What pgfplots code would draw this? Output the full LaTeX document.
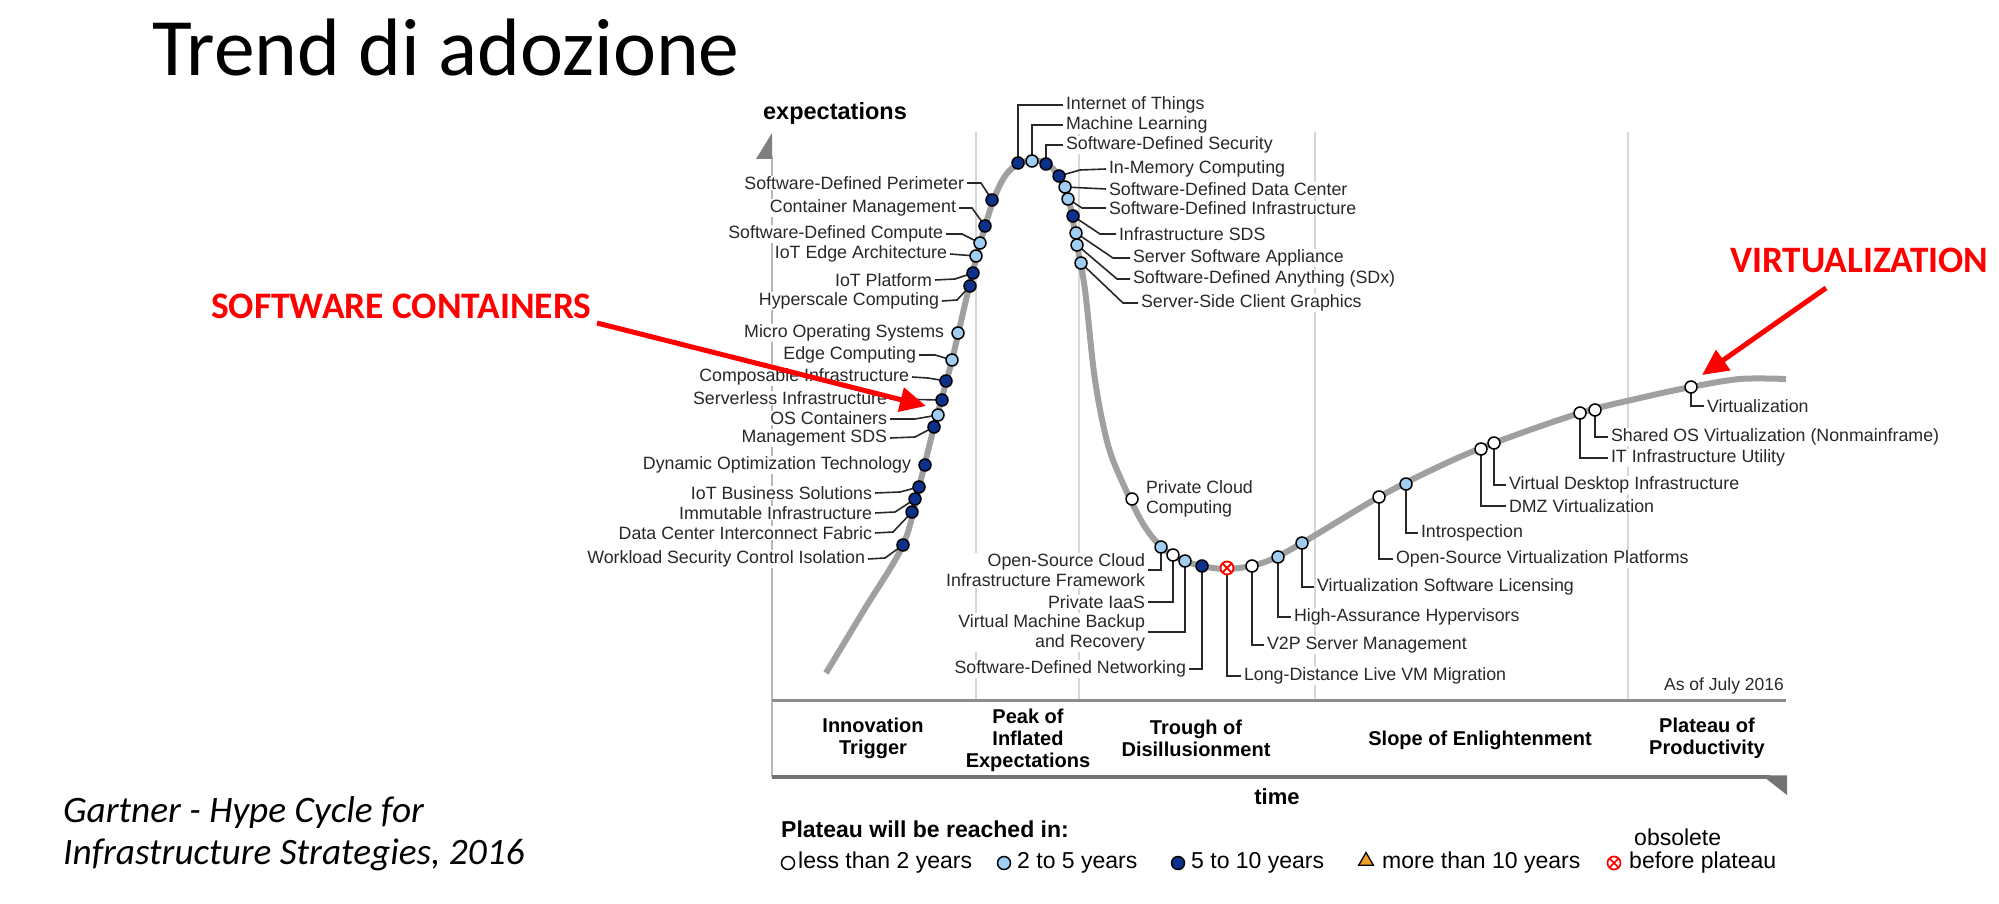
\documentclass[border=0pt]{standalone}
\usepackage{fontspec}
\setmainfont{Liberation Sans}
\newfontfamily\calibri{Carlito}
\usepackage{pgfplots}
\pgfplotsset{compat=1.18}
\usetikzlibrary{arrows.meta,plotmarks}
\definecolor{lblue}{RGB}{160,206,242}
\definecolor{dblue}{RGB}{12,48,140}
\definecolor{curvegray}{RGB}{160,160,160}
\definecolor{sepgray}{RGB}{215,215,215}
\definecolor{txt}{RGB}{40,40,40}
\definecolor{legorange}{RGB}{240,160,40}
\tikzset{
  lbl/.style={font=\fontsize{17.8}{20}\selectfont, text=txt, inner sep=0.8pt, fill=white},
  ldr/.style={draw=txt, line width=1.6pt},
  phase/.style={font=\bfseries\fontsize{20}{22}\selectfont, align=center, inner sep=0},
  leg/.style={font=\fontsize{23}{26}\selectfont, anchor=west, inner sep=0},
}
\begin{document}
\begin{tikzpicture}
\begin{axis}[width=1999pt,height=904pt,scale only axis,
  xmin=0,xmax=1999,ymin=0,ymax=904,y dir=reverse,hide axis,clip=false]
% separators
\draw[sepgray, line width=1.5pt] (976,132) -- (976,700);
\draw[sepgray, line width=1.5pt] (1079,132) -- (1079,700);
\draw[sepgray, line width=1.5pt] (1315,132) -- (1315,700);
\draw[sepgray, line width=1.5pt] (1628,132) -- (1628,700);
% y axis
\draw[black!28, line width=1.5pt] (772,156) -- (772,777);
\fill[black!50] (772,133) -- (772,159) -- (756,159) -- cycle;
% phase box
\draw[black!45, line width=3pt] (772,700) -- (1786,700);
\draw[black!55, line width=3.2pt] (772,777) -- (1770,777);
\fill[black!55] (1762,775.4) -- (1787,775.4) -- (1787,795) -- cycle;
% axis texts
\node[font=\bfseries\fontsize{23.5}{26}\selectfont, inner sep=0] at (835,113) {expectations};
\node[font=\bfseries\fontsize{22}{24}\selectfont, inner sep=0] at (1277,797) {time};
\node[font=\fontsize{17.5}{20}\selectfont, anchor=east, inner sep=0, text=txt] at (1784,686) {As of July 2016};
\node[phase] at (873,738.5) {Innovation\\Trigger};
\node[phase] at (1028,740) {Peak of\\Inflated\\Expectations};
\node[phase] at (1196,738.5) {Trough of\\Disillusionment};
\node[phase] at (1480,740) {Slope of Enlightenment};
\node[phase] at (1707,738.5) {Plateau of\\Productivity};
% left labels
\node[lbl, anchor=east] at (965,183) {Software-Defined Perimeter};
\node[lbl, anchor=east] at (957,208) {Container Management};
\node[lbl, anchor=east] at (944,234) {Software-Defined Compute};
\node[lbl, anchor=east] at (948,254) {IoT Edge Architecture};
\node[lbl, anchor=east] at (933,280) {IoT Platform};
\node[lbl, anchor=east] at (940,301) {Hyperscale Computing};
\node[lbl, anchor=east] at (945,333) {Micro Operating Systems};
\node[lbl, anchor=east] at (917,355) {Edge Computing};
\node[lbl, anchor=east] at (910,377) {Composable Infrastructure};
\node[lbl, anchor=east] at (888,398) {Serverless Infrastructure};
\node[lbl, anchor=east] at (888,418) {OS Containers};
\node[lbl, anchor=east] at (888,438) {Management SDS};
\node[lbl, anchor=east] at (912,465) {Dynamic Optimization Technology};
\node[lbl, anchor=east] at (873,493) {IoT Business Solutions};
\node[lbl, anchor=east] at (873,513) {Immutable Infrastructure};
\node[lbl, anchor=east] at (873,533) {Data Center Interconnect Fabric};
\node[lbl, anchor=east] at (866,559) {Workload Security Control Isolation};
% top right labels
\node[lbl, anchor=west] at (1065,105) {Internet of Things};
\node[lbl, anchor=west] at (1065,125) {Machine Learning};
\node[lbl, anchor=west] at (1065,145) {Software-Defined Security};
\node[lbl, anchor=west] at (1108,169) {In-Memory Computing};
\node[lbl, anchor=west] at (1108,189) {Software-Defined Data Center};
\node[lbl, anchor=west] at (1108,208) {Software-Defined Infrastructure};
\node[lbl, anchor=west] at (1118,234) {Infrastructure SDS};
\node[lbl, anchor=west] at (1132,258) {Server Software Appliance};
\node[lbl, anchor=west] at (1132,279) {Software-Defined Anything (SDx)};
\node[lbl, anchor=west] at (1140,303) {Server-Side Client Graphics};
% trough labels
\node[lbl, anchor=west, align=left] at (1145,499) {Private Cloud\\Computing};
\node[lbl, anchor=east, align=right] at (1146,570.5) {Open-Source Cloud\\Infrastructure Framework};
\node[lbl, anchor=east] at (1146,602) {Private IaaS};
\node[lbl, anchor=east, align=right] at (1146,632.5) {Virtual Machine Backup\\and Recovery};
\node[lbl, anchor=east] at (1187,669) {Software-Defined Networking};
\node[lbl, anchor=west] at (1243,676) {Long-Distance Live VM Migration};
\node[lbl, anchor=west] at (1266,645) {V2P Server Management};
\node[lbl, anchor=west] at (1293,617) {High-Assurance Hypervisors};
\node[lbl, anchor=west] at (1316,587) {Virtualization Software Licensing};
\node[lbl, anchor=west] at (1395,559) {Open-Source Virtualization Platforms};
\node[lbl, anchor=west] at (1420,533) {Introspection};
\node[lbl, anchor=west] at (1508,485) {Virtual Desktop Infrastructure};
\node[lbl, anchor=west] at (1508,506) {DMZ Virtualization};
\node[lbl, anchor=west] at (1610,437) {Shared OS Virtualization (Nonmainframe)};
\node[lbl, anchor=west] at (1610,458) {IT Infrastructure Utility};
\node[lbl, anchor=west] at (1706,406) {Virtualization};
% hype curve
\addplot[curvegray, line width=6pt, smooth, tension=0.55, mark=none] coordinates {
(826,673) (864,610) (903,545) (919,487) (934,427) (952,360) (966,300) (980,244)
(995,196) (1010,170) (1032,160) (1050,166) (1062,182) (1070,205) (1077,245)
(1085,290) (1095,380) (1108,445) (1125,488) (1145,527) (1165,550) (1190,563)
(1227,569) (1265,562) (1302,543) (1379,497) (1440,466) (1494,443) (1580,413)
(1640,398) (1691,387) (1740,379) (1786,379)};
% leaders
\draw[ldr] (967,183) -- (981,183) -- (992,200);
\draw[ldr] (959,208) -- (972,208) -- (985,226);
\draw[ldr] (946,234) -- (962,234) -- (980,243);
\draw[ldr] (950,254) -- (976,256);
\draw[ldr] (935,280) -- (955,279) -- (973,273);
\draw[ldr] (942,301) -- (957,300) -- (970,286);
\draw[ldr] (919,355) -- (935,355) -- (952,360);
\draw[ldr] (912,377) -- (928,378) -- (946,381);
\draw[ldr] (890,399) -- (942,400);
\draw[ldr] (890,419) -- (915,419) -- (938,415);
\draw[ldr] (890,438) -- (915,437) -- (934,427);
\draw[ldr] (875,493) -- (900,492) -- (919,487);
\draw[ldr] (875,513) -- (895,512) -- (915,499);
\draw[ldr] (875,533) -- (893,532) -- (912,512);
\draw[ldr] (868,559) -- (885,558) -- (903,545);
\draw[ldr] (1018,163) -- (1018,105) -- (1063,105);
\draw[ldr] (1032,161) -- (1032,125) -- (1063,125);
\draw[ldr] (1046,164) -- (1046,145) -- (1063,145);
\draw[ldr] (1059,176) -- (1080,170) -- (1106,169);
\draw[ldr] (1065,187) -- (1106,189);
\draw[ldr] (1068,199) -- (1082,208) -- (1106,208);
\draw[ldr] (1073,216) -- (1100,234) -- (1116,234);
\draw[ldr] (1076,233) -- (1113,258) -- (1130,258);
\draw[ldr] (1077,245) -- (1117,279) -- (1130,279);
\draw[ldr] (1081,263) -- (1123,303) -- (1138,303);
\draw[ldr] (1161,547) -- (1161,570) -- (1148,570);
\draw[ldr] (1173,555) -- (1173,602) -- (1148,602);
\draw[ldr] (1185,561) -- (1185,632) -- (1148,632);
\draw[ldr] (1202,566) -- (1202,669) -- (1189,669);
\draw[ldr] (1227,568) -- (1227,676) -- (1241,676);
\draw[ldr] (1252,566) -- (1252,645) -- (1264,645);
\draw[ldr] (1278,557) -- (1278,617) -- (1291,617);
\draw[ldr] (1302,543) -- (1302,587) -- (1314,587);
\draw[ldr] (1379,497) -- (1379,559) -- (1393,559);
\draw[ldr] (1406,484) -- (1406,533) -- (1418,533);
\draw[ldr] (1494,443) -- (1494,485) -- (1506,485);
\draw[ldr] (1481,449) -- (1481,506) -- (1506,506);
\draw[ldr] (1595,410) -- (1595,437) -- (1608,437);
\draw[ldr] (1580,413) -- (1580,458) -- (1608,458);
\draw[ldr] (1691,387) -- (1691,406) -- (1704,406);
% markers: less than 2 years
\addplot[only marks, mark=*, mark size=6pt, mark options={draw=black, fill=white, line width=1.5pt}] coordinates {
(1132,499) (1173,555) (1252,566) (1379,497) (1481,449) (1494,443) (1580,413) (1595,410) (1691,387)};
% 2 to 5 years
\addplot[only marks, mark=*, mark size=6pt, mark options={draw=black, fill=lblue, line width=1.5pt}] coordinates {
(1032,161) (1065,187) (1068,199) (1076,233) (1077,245) (1081,263) (980,243) (976,256)
(958,333) (952,360) (938,415) (1161,547) (1185,561) (1278,557) (1302,543) (1406,484)};
% 5 to 10 years
\addplot[only marks, mark=*, mark size=6pt, mark options={draw=black, fill=dblue, line width=1.5pt}] coordinates {
(1018,163) (1046,164) (1059,176) (1073,216) (992,200) (985,226) (973,273) (970,286)
(946,381) (942,400) (934,427) (925,465) (919,487) (915,499) (912,512) (903,545) (1202,566)};
% obsolete before plateau
\addplot[only marks, mark=otimes*, mark size=6.5pt, mark options={draw=red, fill=white, line width=1.8pt}] coordinates {(1227,568)};
% legend
\node[font=\bfseries\fontsize{23}{26}\selectfont, anchor=west, inner sep=0] at (781,829) {Plateau will be reached in:};
\addplot[only marks, mark=*, mark size=6.5pt, mark options={draw=black, fill=white, line width=1.5pt}] coordinates {(788,863)};
\addplot[only marks, mark=*, mark size=6.5pt, mark options={draw=black, fill=lblue, line width=1.5pt}] coordinates {(1004,863)};
\addplot[only marks, mark=*, mark size=6.5pt, mark options={draw=black, fill=dblue, line width=1.5pt}] coordinates {(1178,863)};
\addplot[only marks, mark=triangle*, mark size=8.5pt, mark options={draw=black, fill=legorange, line width=1.3pt}] coordinates {(1366,861)};
\addplot[only marks, mark=otimes*, mark size=6.5pt, mark options={draw=red, fill=white, line width=1.7pt}] coordinates {(1614,863)};
\node[leg] at (798,863) {less than 2 years};
\node[leg] at (1017,863) {2 to 5 years};
\node[leg] at (1191,863) {5 to 10 years};
\node[leg] at (1382,863) {more than 10 years};
\node[leg] at (1629,863) {before plateau};
\node[leg] at (1634,837) {obsolete};
% title and notes
\node[anchor=base west, inner sep=0, font=\calibri\fontsize{81.5}{96}\selectfont] at (152,76) {Trend di adozione};
\node[anchor=base west, inner sep=0, font=\calibri\itshape\fontsize{37.3}{44}\selectfont] at (63,822) {Gartner - Hype Cycle for};
\node[anchor=base west, inner sep=0, font=\calibri\itshape\fontsize{37.3}{44}\selectfont] at (63,864) {Infrastructure Strategies, 2016};
% red annotations
\node[anchor=west, inner sep=0, text=red, font=\calibri\bfseries\fontsize{37.4}{42}\selectfont] at (211,306) {SOFTWARE CONTAINERS};
\node[anchor=west, inner sep=0, text=red, font=\calibri\bfseries\fontsize{37.3}{42}\selectfont] at (1730,260) {VIRTUALIZATION};
\draw[red, line width=5pt, -{Triangle[length=26pt, width=24pt]}] (597,323) -- (926,406);
\draw[red, line width=5pt, -{Triangle[length=26pt, width=24pt]}] (1826,288) -- (1702,375);
\end{axis}
\pgfresetboundingbox
\useasboundingbox (current axis.south west) rectangle (current axis.north east);
\end{tikzpicture}
\end{document}
